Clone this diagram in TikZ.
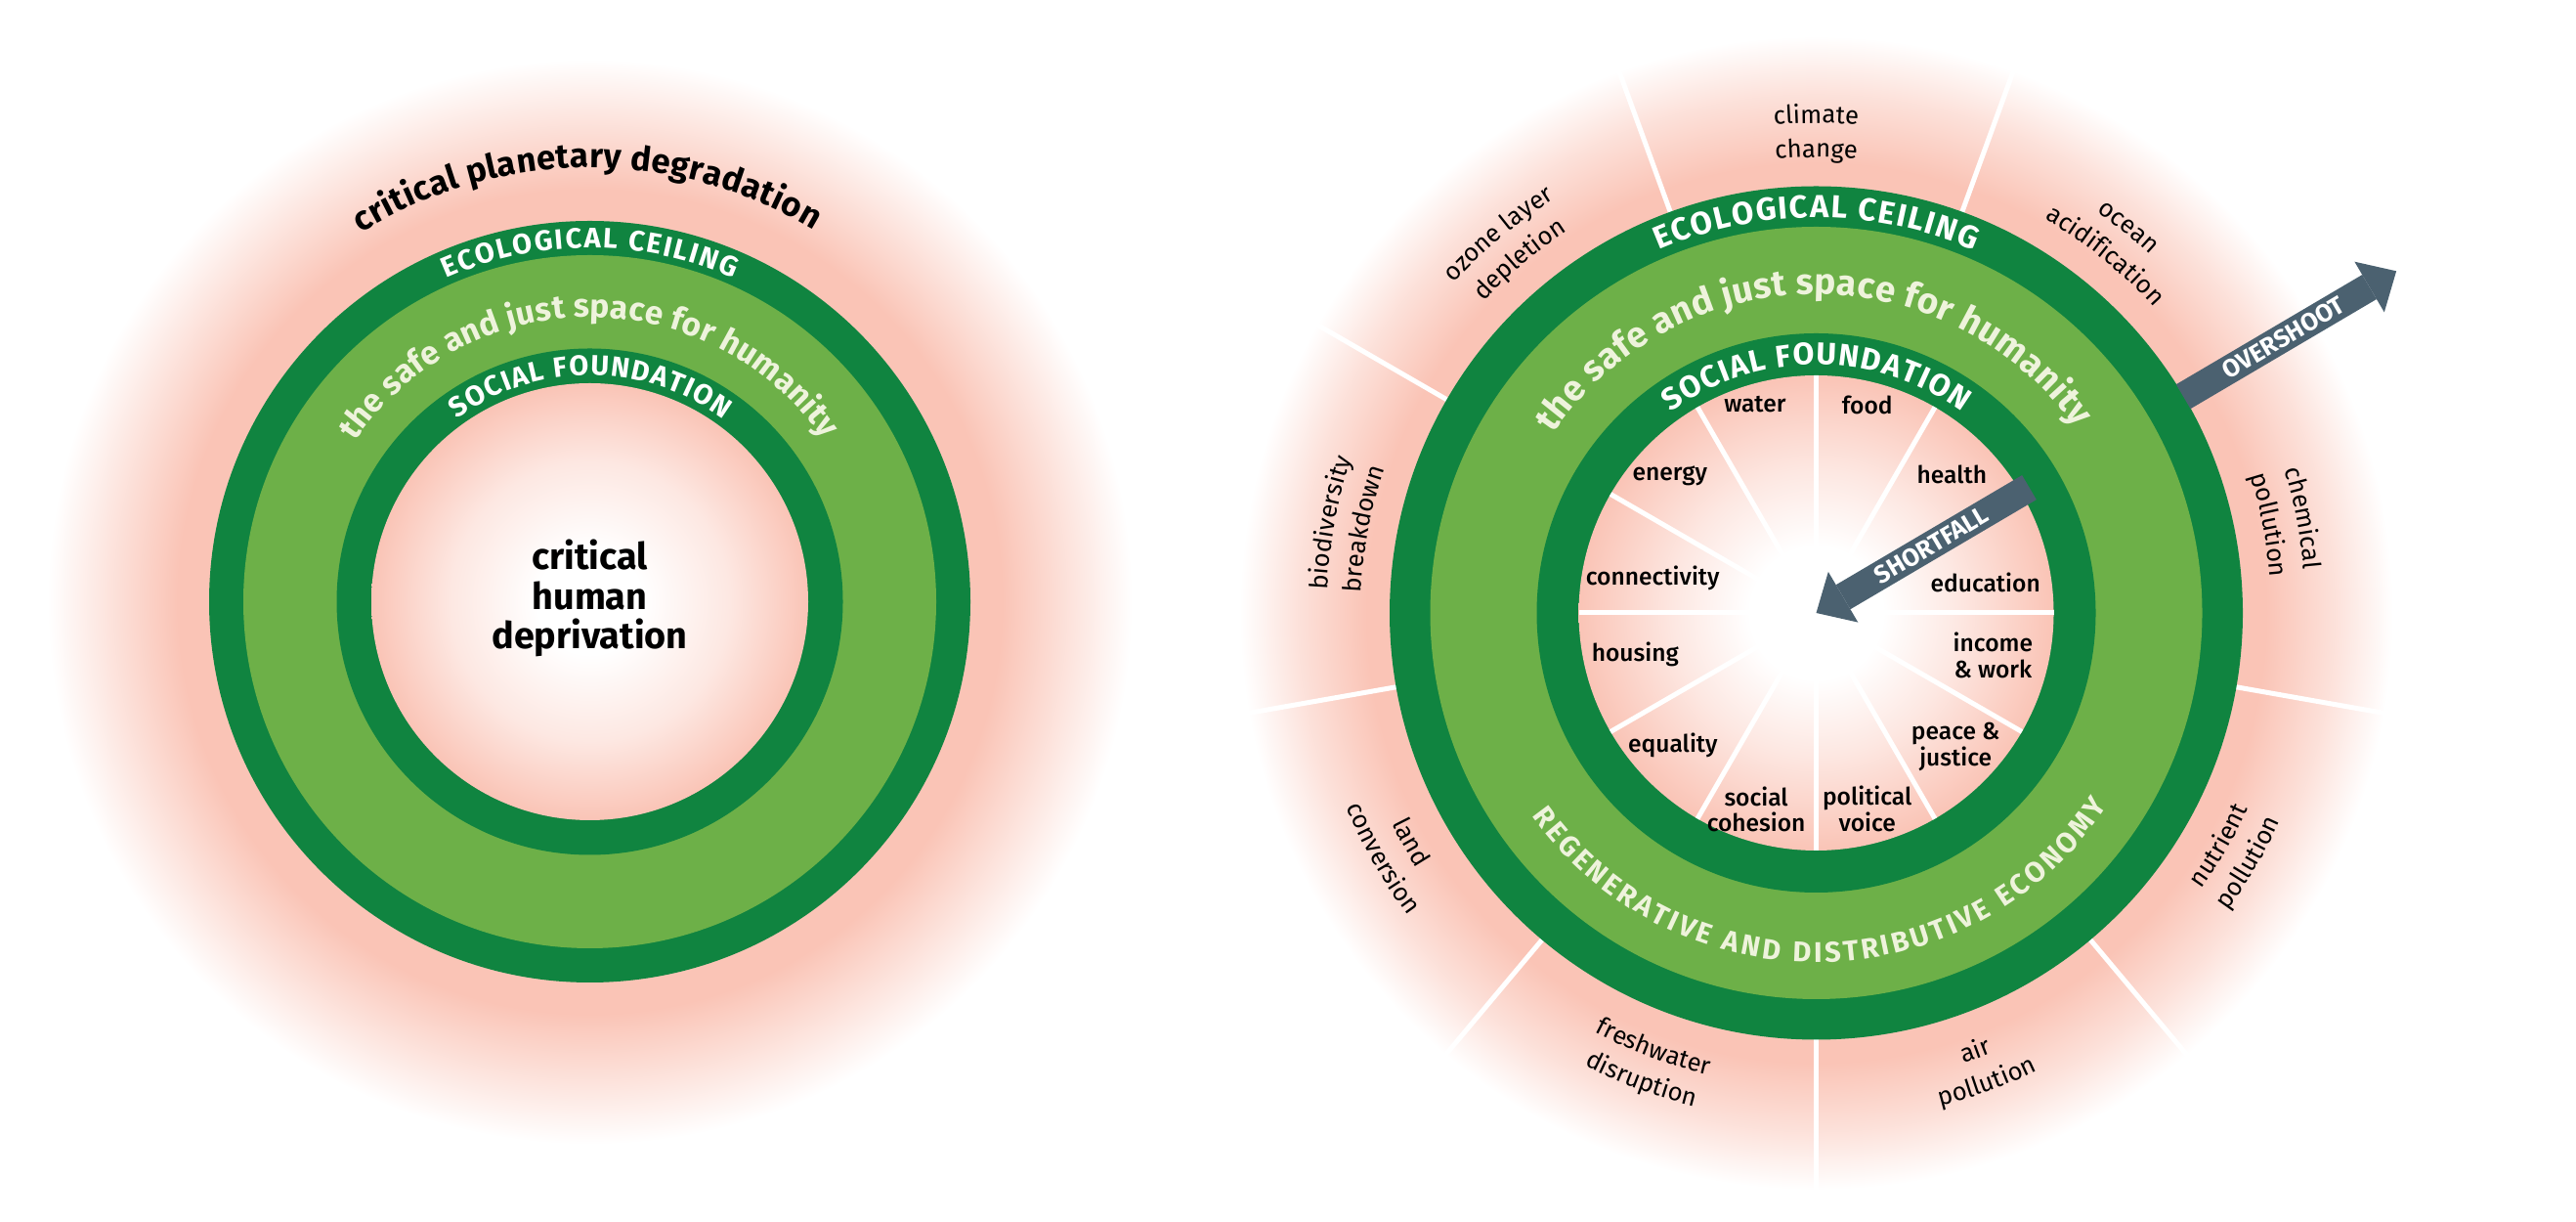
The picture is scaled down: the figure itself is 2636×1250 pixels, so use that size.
\documentclass[tikz,border=0pt]{standalone}
\usepackage{fontspec}
\setmainfont{Fira Sans}
\newfontfamily\medfamily{Fira Sans Medium}
\usetikzlibrary{decorations.text, arrows.meta}

\definecolor{darkgreen}{HTML}{108440}
\definecolor{lightgreen}{HTML}{6DB048}
\definecolor{cream}{HTML}{EEF3DC}
\definecolor{glowpink}{HTML}{FAC4B6}
\definecolor{slate}{HTML}{4B6170}
\colorlet{glowmid}{glowpink!50!white}
\colorlet{glowlight}{glowpink!40!white}

% glow behind and inside the rings
\pgfdeclareradialshading{leftglow}{\pgfpoint{0bp}{0bp}}{%
  color(0bp)=(glowpink); color(19bp)=(glowpink); color(22bp)=(glowmid);
  color(25bp)=(white); color(50bp)=(white)}
\pgfdeclareradialshading{rightglow}{\pgfpoint{0bp}{0bp}}{%
  color(0bp)=(glowpink); color(19.5bp)=(glowpink); color(22.5bp)=(glowmid);
  color(25bp)=(white); color(50bp)=(white)}
\pgfdeclareradialshading{leftcore}{\pgfpoint{0bp}{0bp}}{%
  color(0bp)=(white); color(6bp)=(white); color(16bp)=(glowlight);
  color(25bp)=(glowpink); color(50bp)=(glowpink)}
\pgfdeclareradialshading{rightcore}{\pgfpoint{0bp}{0bp}}{%
  color(0bp)=(white); color(7bp)=(white); color(15bp)=(glowlight);
  color(25bp)=(glowpink); color(50bp)=(glowpink)}

\newcommand\innerfont{\medfamily\fontsize{14}{15.2}\selectfont}
\newcommand\boundfont{\fontsize{14.6}{17}\selectfont}
\newcommand\deprivfont{\bfseries\fontsize{21.5}{23}\selectfont}
\newcommand\planetfont{\bfseries\fontsize{19.8}{22}\selectfont}
\newcommand\arrowfont{\bfseries\fontsize{14.5}{16}\selectfont}

\tikzset{
	spoke/.style={
			draw=white,
			line width=0.1cm
		},
	ringtext/.style={
			decorate,
			decoration={text along path, text align=fit to path, text={#1}}
		},
	boundtext/.style={
			decorate,
			decoration={text along path, text align=center, text={|\boundfont|#1}}
		},
	innerlabel/.style={
			font=\innerfont,
			align=center,
			inner sep=0pt
		},
	centerlabel/.style={
			font=\deprivfont,
			align=center,
			inner sep=0pt
		},
	bigarrow/.style={
			draw=slate,
			line width=0.58cm,
			-{Triangle[length=0.64cm, width=1.2cm, line width=0pt]}
		},
	arrowlabel/.style={
			font=\arrowfont,
			text=white,
			inner sep=0pt
		}
}

\begin{document}
\begin{tikzpicture}[x=0.02cm, y=0.02cm]
\useasboundingbox (0,0) rectangle (2636,1250);

% the doughnut alone
\begin{scope}[shift={(603.5,634.5)}]
	\shade[shading=leftglow] (0,0) circle[radius=555];
	\fill[darkgreen] (0,0) circle[radius=389.5];
	\fill[lightgreen] (0,0) circle[radius=354.5];
	\fill[darkgreen] (0,0) circle[radius=259];
	\shade[shading=leftcore] (0,0) circle[radius=223.5];

	\node[centerlabel] (deprivation) at (0,3.5) {critical\\human\\deprivation};

	\path[ringtext={|\planetfont|critical planetary degradation}]
		(121.8:444) arc[start angle=121.8, end angle=59, radius=444];
	\path[ringtext={|\bfseries\fontsize{16.5}{19}\selectfont\color{white}|ECOLOGICAL CEILING}]
		(114:362) arc[start angle=114, end angle=66, radius=362];
	\path[ringtext={|\bfseries\fontsize{19}{21}\selectfont\color{cream}|the safe and just space for humanity}]
		(145.7:291) arc[start angle=145.7, end angle=34.7, radius=291];
	\path[ringtext={|\bfseries\fontsize{16.4}{19}\selectfont\color{white}|SOCIAL FOUNDATION}]
		(126:231.5) arc[start angle=126, end angle=53.7, radius=231.5];
\end{scope}

% the doughnut with its dimensions
\begin{scope}[shift={(1858.5,623)}]
	\shade[shading=rightglow] (0,0) circle[radius=590];
	\foreach \a in {150,110,70,30,-10,-50,-90,-130,-170}
		\draw[spoke] (\a:436) -- (\a:600);
	\fill[darkgreen] (0,0) circle[radius=436.5];
	\fill[lightgreen] (0,0) circle[radius=395];
	\fill[darkgreen] (0,0) circle[radius=286];
	\shade[shading=rightcore] (0,0) circle[radius=243];
	\foreach \a in {0,30,...,330}
		\draw[spoke] (0,0) -- (\a:243);

	% social foundation
	\node[innerlabel] (water) at (106.4:222) {water};
	\node[innerlabel] (food) at (76.2:219) {food};
	\node[innerlabel] (energy) at (136.9:205) {energy};
	\node[innerlabel] (health) at (45.5:198) {health};
	\node[innerlabel] (connectivity) at (168.1:171) {connectivity};
	\node[innerlabel] (education) at (10.3:176) {education};
	\node[innerlabel] (housing) at (192.9:190) {housing};
	\node[innerlabel] (income) at (346.5:186) {income\\\& work};
	\node[innerlabel] (equality) at (222.8:200) {equality};
	\node[innerlabel] (peace) at (316.1:198) {peace \&\\justice};
	\node[innerlabel] (cohesion) at (253:210) {social\\cohesion};
	\node[innerlabel] (voice) at (284.6:207) {political\\voice};

	% ecological ceiling
	\path[boundtext={climate}] (110:501) arc[start angle=110, end angle=70, radius=501];
	\path[boundtext={change}] (110:466) arc[start angle=110, end angle=70, radius=466];
	\path[boundtext={ocean}] (71:501) arc[start angle=71, end angle=31, radius=501];
	\path[boundtext={acidification}] (71:466) arc[start angle=71, end angle=31, radius=466];
	\path[boundtext={chemical}] (31:501) arc[start angle=31, end angle=-9, radius=501];
	\path[boundtext={pollution}] (31:466) arc[start angle=31, end angle=-9, radius=466];
	\path[boundtext={ozone layer}] (150:501) arc[start angle=150, end angle=110, radius=501];
	\path[boundtext={depletion}] (150:466) arc[start angle=150, end angle=110, radius=466];
	\path[boundtext={biodiversity}] (189.5:501) arc[start angle=189.5, end angle=149.5, radius=501];
	\path[boundtext={breakdown}] (189.5:466) arc[start angle=189.5, end angle=149.5, radius=466];
	\path[boundtext={land}] (189.5:485) arc[start angle=189.5, end angle=229.5, radius=485];
	\path[boundtext={conversion}] (189.5:520) arc[start angle=189.5, end angle=229.5, radius=520];
	\path[boundtext={freshwater}] (229.5:485) arc[start angle=229.5, end angle=269.5, radius=485];
	\path[boundtext={disruption}] (229.5:520) arc[start angle=229.5, end angle=269.5, radius=520];
	\path[boundtext={air}] (270:485) arc[start angle=270, end angle=310, radius=485];
	\path[boundtext={pollution}] (270:520) arc[start angle=270, end angle=310, radius=520];
	\path[boundtext={nutrient}] (310:485) arc[start angle=310, end angle=350, radius=485];
	\path[boundtext={pollution}] (310:520) arc[start angle=310, end angle=350, radius=520];

	% ring names
	\path[ringtext={|\bfseries\fontsize{18.5}{21}\selectfont\color{white}|ECOLOGICAL CEILING}]
		(113.5:404.5) arc[start angle=113.5, end angle=66.5, radius=404.5];
	\path[ringtext={|\bfseries\fontsize{21}{23}\selectfont\color{cream}|the safe and just space for humanity}]
		(145.7:326) arc[start angle=145.7, end angle=35.5, radius=326];
	\path[ringtext={|\bfseries\fontsize{18}{20}\selectfont\color{white}|SOCIAL FOUNDATION}]
		(126:254) arc[start angle=126, end angle=54, radius=254];
	\path[ringtext={|\bfseries\fontsize{16.6}{19}\selectfont\color{cream}|REGENERATIVE AND DISTRIBUTIVE ECONOMY}]
		(215.5:357.5) arc[start angle=215.5, end angle=326.5, radius=357.5];

	% overshoot and shortfall
	\coordinate (overshoot start) at (30.5:436);
	\coordinate (overshoot tip) at (30.5:689);
	\coordinate (shortfall start) at (30.5:253);
	\coordinate (shortfall tip) at (0,0);
	\draw[bigarrow] (overshoot start) -- (overshoot tip);
	\draw[bigarrow] (shortfall start) -- (shortfall tip);
	\node[arrowlabel, rotate=30.5] (overshoot) at (30.5:555) {OVERSHOOT};
	\node[arrowlabel, rotate=30.5] (shortfall) at (30.5:137) {SHORTFALL};
\end{scope}
\end{tikzpicture}
\end{document}
